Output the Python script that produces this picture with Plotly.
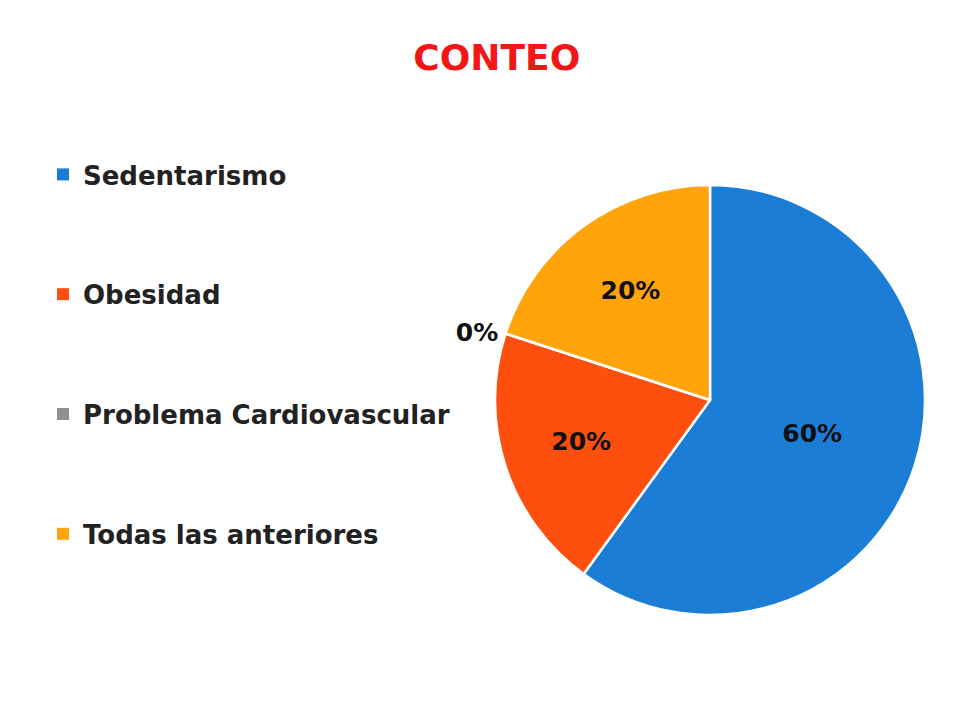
import plotly.graph_objects as go

labels = ["Sedentarismo", "Obesidad", "Problema Cardiovascular", "Todas las anteriores"]
values = [60, 20, 0, 20]
colors = ["#1C7DD6", "#FF4F0E", "#8E9291", "#FFA40B"]
text_positions = ["inside", "inside", "outside", "inside"]

W, H = 966, 711

fig = go.Figure()

fig.add_trace(go.Pie(
    labels=labels,
    values=values,
    sort=False,
    direction="clockwise",
    rotation=0,
    marker=dict(colors=colors, line=dict(color="white", width=2.5)),
    textinfo="percent",
    texttemplate="%{percent:.0%}",
    textposition=text_positions,
    insidetextorientation="horizontal",
    textfont=dict(family="DejaVu Sans", size=25, color="#111111", weight="bold"),
    showlegend=False,
    domain=dict(x=[487 / W, 917 / W], y=[1 - 607 / H, 1 - 177 / H]),
    hoverinfo="label+percent",
))

for lab, col in zip(labels, colors):
    fig.add_trace(go.Scatter(
        x=[None], y=[None], mode="markers", name=lab,
        marker=dict(symbol="square", size=11, color=col),
        legendgroup=lab, showlegend=True,
    ))

fig.update_layout(
    width=W, height=H,
    paper_bgcolor="white", plot_bgcolor="white",
    margin=dict(l=0, r=0, t=0, b=0),
    title=dict(text="<b>CONTEO</b>", x=0.506, xanchor="center", y=1 - 49 / H, yanchor="middle",
               font=dict(family="DejaVu Sans", size=36, color="#F21616")),
    xaxis=dict(visible=False), yaxis=dict(visible=False),
    legend=dict(
        x=35 / W, xanchor="left", y=1 - 143 / H, yanchor="top",
        font=dict(family="DejaVu Sans", size=26, color="#222222", weight="bold"),
        tracegroupgap=83, itemsizing="constant", bgcolor="rgba(0,0,0,0)",
    ),
)

fig.write_html("out.html")
